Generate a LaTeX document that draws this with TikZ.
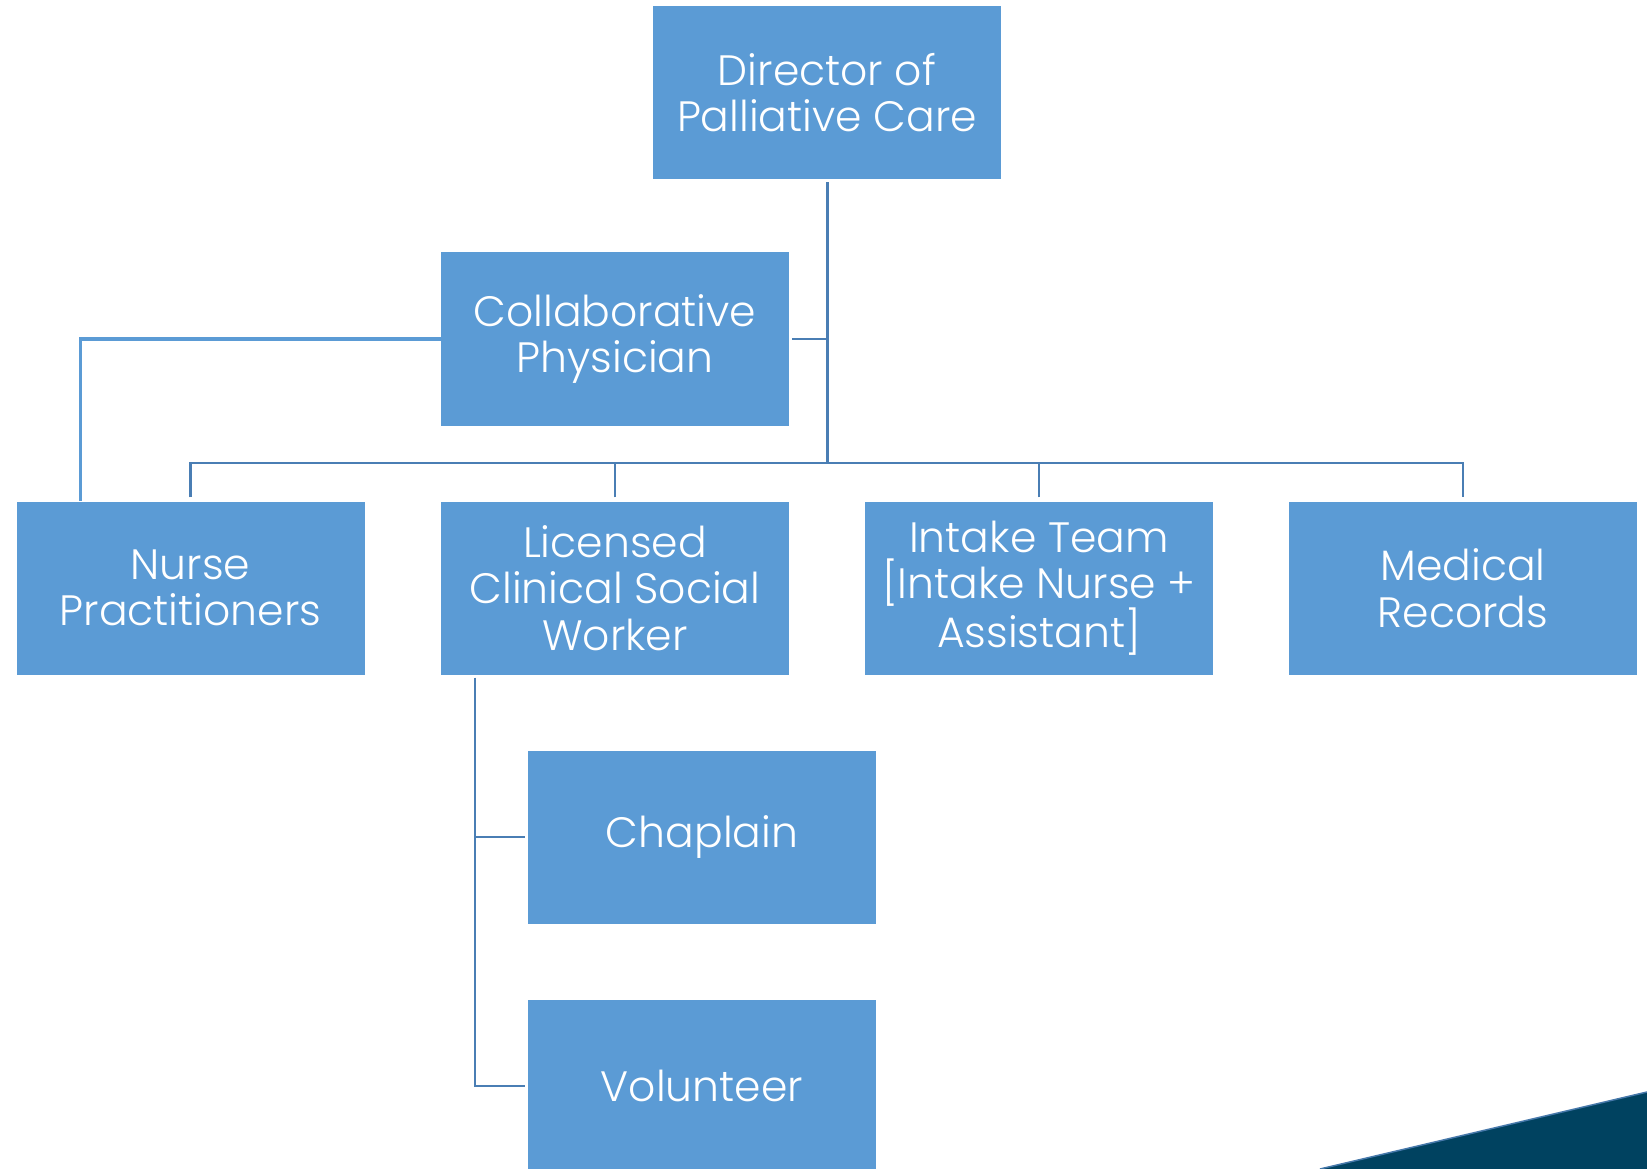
\documentclass[tikz,border=0pt]{standalone}
\usepackage{fontspec}
\setmainfont{Poppins}[UprightFont=* Light]
\definecolor{boxblue}{RGB}{91,155,213}
\definecolor{linkblue}{RGB}{74,126,180}
\definecolor{navy}{RGB}{0,66,96}
\definecolor{edgeblue}{RGB}{70,120,170}
\begin{document}
\begin{tikzpicture}[x=1pt,y=-1pt,
  orgbox/.style={rectangle, fill=boxblue, text=white, align=center,
    minimum width=348pt, minimum height=173pt, inner sep=0pt,
    font=\fontsize{42.5}{46.5}\selectfont},
  link/.style={draw=linkblue, line width=2.6pt},
  sidelink/.style={draw=boxblue, line width=3.4pt}]
\clip (0,0) rectangle (1647,1169);
\fill[white] (0,0) rectangle (1647,1169);

% boxes
\node[orgbox] (dir)    at (827,92.5)  {Director of\\Palliative Care};
\node[orgbox] (collab) at (615,339)   {Collaborative\\Physician};
\node[orgbox] (nurse)  at (190.5,588) {Nurse\\Practitioners};
\node[orgbox] (lcsw)   at (615,588)   {Licensed\\Clinical Social\\Worker};
\node[orgbox] (intake) at (1039,588)  {Intake Team\\{[Intake Nurse +}\\Assistant]};
\node[orgbox] (med)    at (1463,588)  {Medical\\Records};
\node[orgbox] (chap)   at (702,837)   {Chaplain};
\node[orgbox] (vol)    at (702,1086)  {Volunteer};

% reporting lines
\coordinate (bus) at (0,463);
\draw[link, line width=3pt] ([yshift=-3pt]dir.south) -- (dir.south |- bus);
\draw[link] ([xshift=3pt]collab.east) -- (collab.east -| dir.south);
\draw[link] ([yshift=4pt]nurse.north) |- (bus -| med.north) -- ([yshift=4pt]med.north);
\draw[link] ([yshift=4pt]lcsw.north) -- (lcsw.north |- bus);
\draw[link] ([yshift=4pt]intake.north) -- (intake.north |- bus);

% physician to nurse practitioners
\draw[sidelink] (collab.west) -| ([xshift=64pt]nurse.north west);

% social worker to chaplain and volunteer
\coordinate (spine) at ([xshift=34pt,yshift=-3pt]lcsw.south west);
\draw[link] (spine) |- ([xshift=-3pt]vol.west);
\draw[link] ([xshift=-3pt]chap.west) -- (chap.west -| spine);

% corner accent
\fill[navy] (1320,1169) -- (1647,1092) -- (1647,1169) -- cycle;
\draw[edgeblue, line width=1.5pt] (1320,1169) -- (1647,1092);
\end{tikzpicture}
\end{document}
